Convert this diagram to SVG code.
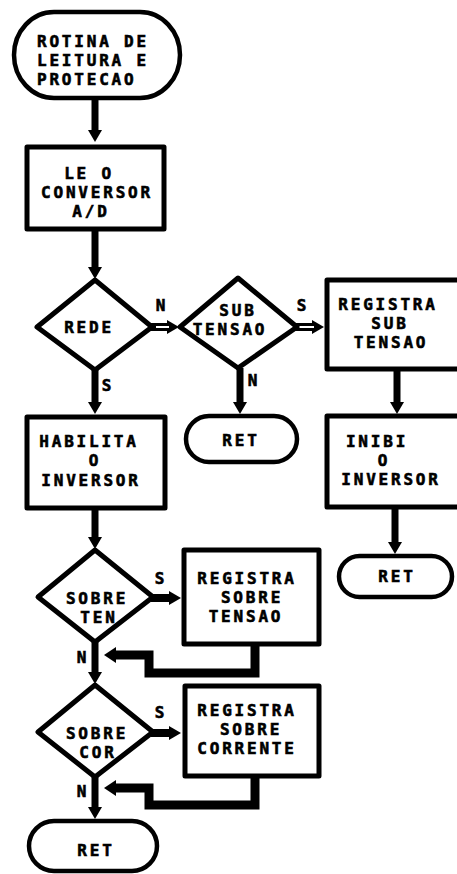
<svg xmlns="http://www.w3.org/2000/svg" width="457" height="874" viewBox="0 0 457 874">
<defs>
<marker id="ah" markerUnits="userSpaceOnUse" viewBox="0 0 12 14" markerWidth="12" markerHeight="14" refX="1" refY="7" orient="auto">
<path d="M0,0 L12,7 L0,14 z" fill="#000"/>
</marker>
<marker id="ahr" markerUnits="userSpaceOnUse" viewBox="0 0 12 16" markerWidth="12" markerHeight="16" refX="1" refY="8" orient="auto">
<path d="M0,0 L12,8 L0,16 z" fill="#000"/>
</marker>
</defs>
<style>
.sh{fill:#fff;stroke:#000;stroke-width:5;stroke-linejoin:round}
.term{fill:#fff;stroke:#000;stroke-width:4.5}
.t{font-family:"DejaVu Sans Mono","Liberation Mono",monospace;font-weight:bold;font-size:16px;letter-spacing:2.8px;fill:#000;stroke:#000;stroke-width:0.6}
.m{text-anchor:middle}
.c{fill:none;stroke:#000;stroke-width:7;marker-end:url(#ah)}
.r{fill:none;stroke:#000;stroke-width:9;stroke-linejoin:miter;marker-end:url(#ahr)}
.w{stroke:#fff;stroke-width:2}
</style>
<rect width="457" height="874" fill="#fff"/>
<g id="connectors">
<line class="c" x1="95" y1="97" x2="95" y2="131"/>
<line class="c" x1="95" y1="230" x2="95" y2="268"/>
<line class="c" x1="95" y1="370" x2="95" y2="403"/>
<line class="c" x1="95" y1="510" x2="95" y2="538"/>
<line class="c" x1="95" y1="642" x2="95" y2="673"/>
<line class="c" x1="95" y1="777" x2="95" y2="808"/>
<line class="c" x1="240" y1="368" x2="240" y2="403"/>
<line class="c" x1="397" y1="370" x2="397" y2="403"/>
<line class="c" x1="395" y1="508" x2="395" y2="543"/>
<line class="c" x1="150" y1="327" x2="168" y2="327" style="stroke-width:8"/>
<line class="w" x1="156" y1="327" x2="169" y2="327"/>
<line class="c" x1="295" y1="327" x2="313" y2="327" style="stroke-width:8"/>
<line class="w" x1="299" y1="327" x2="314" y2="327"/>
<line class="c" x1="151" y1="598" x2="170" y2="598" style="stroke-width:8"/>
<line class="c" x1="151" y1="733" x2="170" y2="733" style="stroke-width:8"/>
<polyline class="r" points="255,645 255,673 149,673 149,655 115,655"/>
<polyline class="r" points="255,777 255,805 149,805 149,788 115,788"/>
</g>
<g id="start">
<rect class="term" x="14" y="12" width="166" height="86" rx="40" ry="43"/>
<text class="t" x="37" y="47">ROTINA DE</text>
<text class="t" x="37" y="66">LEITURA E</text>
<text class="t" x="37" y="85">PROTECAO</text>
</g>
<g id="le-conversor">
<rect class="sh" x="27" y="147" width="137" height="82"/>
<text class="t m" x="89" y="179">LE O</text>
<text class="t m" x="97" y="198">CONVERSOR</text>
<text class="t m" x="91" y="217">A/D</text>
</g>
<g id="rede">
<polygon class="sh" points="95,280 152,327 95,370 37,327"/>
<text class="t m" x="89" y="333">REDE</text>
<text class="t m" x="162" y="311">N</text>
<text class="t m" x="108" y="391">S</text>
</g>
<g id="subtensao">
<polygon class="sh" points="238,278 297,327 238,368 180,327"/>
<text class="t m" x="238" y="316">SUB</text>
<text class="t m" x="230" y="335">TENSAO</text>
<text class="t m" x="303" y="311">S</text>
<text class="t m" x="254" y="386">N</text>
</g>
<g id="registra-sub">
<rect class="sh" x="327" y="280" width="140" height="89"/>
<text class="t m" x="388" y="310">REGISTRA</text>
<text class="t m" x="390" y="329">SUB</text>
<text class="t m" x="391" y="348">TENSAO</text>
</g>
<g id="ret-sub">
<rect class="term" x="186" y="416" width="111" height="46" rx="23"/>
<text class="t m" x="241" y="446">RET</text>
</g>
<g id="inibi">
<rect class="sh" x="327" y="416" width="140" height="91"/>
<text class="t m" x="377" y="447">INIBI</text>
<text class="t m" x="384" y="466">O</text>
<text class="t m" x="391" y="485">INVERSOR</text>
</g>
<g id="ret-inibi">
<rect class="term" x="339" y="556" width="113" height="41" rx="20.5"/>
<text class="t m" x="397" y="582">RET</text>
</g>
<g id="habilita">
<rect class="sh" x="27" y="417" width="138" height="91"/>
<text class="t m" x="89" y="447">HABILITA</text>
<text class="t m" x="95" y="466">O</text>
<text class="t m" x="91" y="486">INVERSOR</text>
</g>
<g id="sobreten">
<polygon class="sh" points="95,550 153,597 95,642 38,597"/>
<text class="t m" x="97" y="604">SOBRE</text>
<text class="t m" x="99" y="623">TEN</text>
<text class="t m" x="161" y="584">S</text>
<text class="t m" x="83" y="663">N</text>
</g>
<g id="registra-sobreten">
<rect class="sh" x="184" y="550" width="135" height="94"/>
<text class="t m" x="247" y="584">REGISTRA</text>
<text class="t m" x="252" y="603">SOBRE</text>
<text class="t m" x="246" y="622">TENSAO</text>
</g>
<g id="sobrecor">
<polygon class="sh" points="95,685 153,732 95,777 38,732"/>
<text class="t m" x="97" y="739">SOBRE</text>
<text class="t m" x="98" y="758">COR</text>
<text class="t m" x="161" y="718">S</text>
<text class="t m" x="83" y="797">N</text>
</g>
<g id="registra-sobrecor">
<rect class="sh" x="185" y="686" width="134" height="90"/>
<text class="t m" x="247" y="716">REGISTRA</text>
<text class="t m" x="251" y="735">SOBRE</text>
<text class="t m" x="247" y="754">CORRENTE</text>
</g>
<g id="ret-end">
<rect class="term" x="29" y="821" width="128" height="50" rx="25"/>
<text class="t m" x="96" y="856">RET</text>
</g>
</svg>
